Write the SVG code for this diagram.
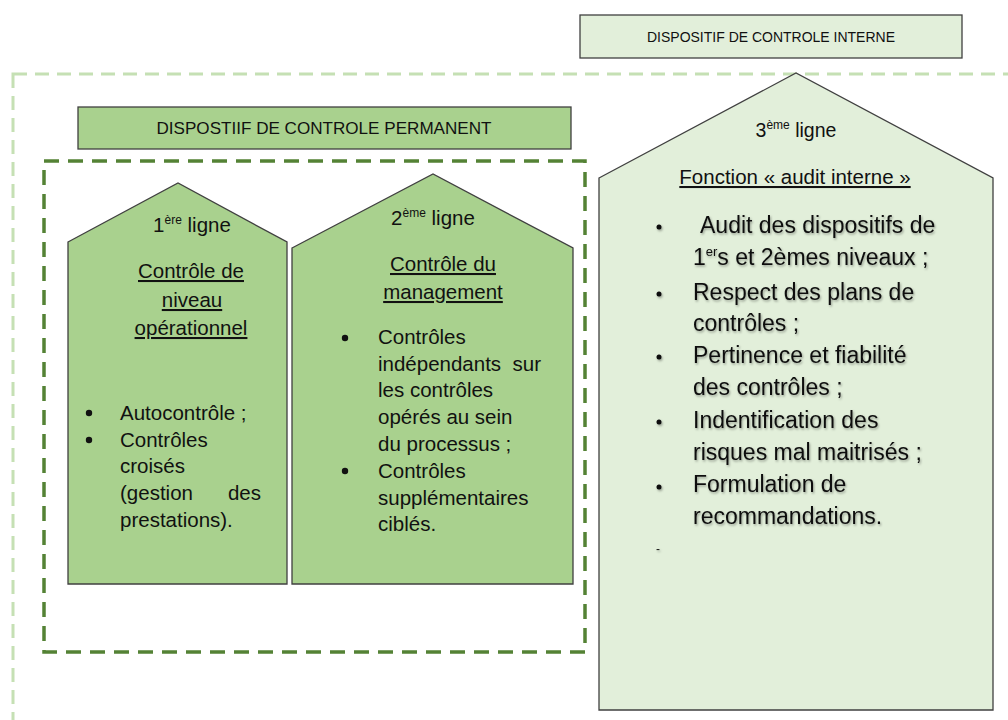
<svg xmlns="http://www.w3.org/2000/svg" width="1008" height="720" viewBox="0 0 1008 720">
<defs>
<style>
.t{font-family:"Liberation Sans",Arial,sans-serif;fill:#111;}
.box{stroke:#404040;stroke-width:1.3;}
.mid{fill:#a9d18e;}
.light{fill:#e2efda;}
.u{text-decoration:underline;}
.s{font-size:20.5px;}
.b{font-size:23px;}
</style>
<filter id="sh" x="-5%" y="-20%" width="110%" height="140%">
<feDropShadow dx="1" dy="1.5" stdDeviation="0.8" flood-color="#000" flood-opacity="0.35"/>
</filter>
</defs>
<rect width="1008" height="720" fill="#fff"/>
<g id="frames">
<rect x="13" y="74" width="1100" height="700" fill="none" stroke="#c5e0b4" stroke-width="3" stroke-dasharray="14 8"/>
<rect x="44" y="161" width="541" height="491" fill="none" stroke="#548235" stroke-width="3.5" stroke-dasharray="15 9"/>
</g>
<g id="title-internal">
<rect class="box light" x="580" y="15" width="382" height="43"/>
<text class="t" x="771" y="42" font-size="14.5" text-anchor="middle" textLength="248" lengthAdjust="spacingAndGlyphs">DISPOSITIF DE CONTROLE INTERNE</text>
</g>
<g id="title-permanent">
<rect class="box mid" x="78" y="107" width="493" height="42"/>
<text class="t" x="324" y="134" font-size="17" text-anchor="middle" textLength="335" lengthAdjust="spacingAndGlyphs">DISPOSTIIF DE CONTROLE PERMANENT</text>
</g>
<g id="line1">
<polygon class="box mid" points="68,242 178,183 287,242 287,584 68,584"/>
<text class="t s" x="192" y="232" text-anchor="middle">1<tspan font-size="12" dy="-8">ère</tspan><tspan dy="8"> ligne</tspan></text>
<text class="t s u" x="191" y="278" text-anchor="middle">Contrôle de</text>
<text class="t s u" x="192" y="307" text-anchor="middle">niveau</text>
<text class="t s u" x="191" y="335" text-anchor="middle">opérationnel</text>
<circle cx="89" cy="413" r="3.2" fill="#111"/>
<circle cx="89" cy="440" r="3.2" fill="#111"/>
<text class="t s" x="120" y="420">Autocontrôle ;</text>
<text class="t s" x="120" y="447">Contrôles</text>
<text class="t s" x="120" y="473">croisés</text>
<text class="t s" x="120" y="500">(gestion</text>
<text class="t s" x="261" y="500" text-anchor="end">des</text>
<text class="t s" x="120" y="527">prestations).</text>
</g>
<g id="line2">
<polygon class="box mid" points="292,248 433,174 573,248 573,584 292,584"/>
<text class="t s" x="433" y="225" text-anchor="middle">2<tspan font-size="12" dy="-8">ème</tspan><tspan dy="8"> ligne</tspan></text>
<text class="t s u" x="443" y="271" text-anchor="middle">Contrôle du</text>
<text class="t s u" x="443" y="299" text-anchor="middle">management</text>
<circle cx="345" cy="338" r="3.2" fill="#111"/>
<circle cx="345" cy="471" r="3.2" fill="#111"/>
<text class="t s" x="378" y="344">Contrôles</text>
<text class="t s" x="378" y="371">indépendants</text>
<text class="t s" x="541" y="371" text-anchor="end">sur</text>
<text class="t s" x="378" y="397">les contrôles</text>
<text class="t s" x="378" y="424">opérés au sein</text>
<text class="t s" x="378" y="451">du processus ;</text>
<text class="t s" x="378" y="478">Contrôles</text>
<text class="t s" x="378" y="505">supplémentaires</text>
<text class="t s" x="378" y="531">ciblés.</text>
</g>
<g id="line3">
<polygon class="box light" points="599,178 796,73 993,178 993,710 599,710"/>
<text class="t" x="796" y="137" font-size="19.5" text-anchor="middle">3<tspan font-size="12" dy="-8">ème</tspan><tspan dy="8"> ligne</tspan></text>
<text class="t u" x="795" y="184" font-size="20.5" text-anchor="middle">Fonction « audit interne  »</text>
<g filter="url(#sh)">
<circle cx="659" cy="227" r="2.5" fill="#111"/>
<circle cx="659" cy="294" r="2.5" fill="#111"/>
<circle cx="659" cy="357" r="2.5" fill="#111"/>
<circle cx="659" cy="422" r="2.5" fill="#111"/>
<circle cx="659" cy="487" r="2.5" fill="#111"/>
<text class="t b" x="700" y="233">Audit des dispositifs de</text>
<text class="t b" x="693" y="265">1<tspan font-size="13" dy="-9">er</tspan><tspan dy="9">s et 2èmes niveaux ;</tspan></text>
<text class="t b" x="693" y="300">Respect des plans de</text>
<text class="t b" x="693" y="331">contrôles ;</text>
<text class="t b" x="693" y="363">Pertinence et fiabilité</text>
<text class="t b" x="693" y="395">des contrôles ;</text>
<text class="t b" x="693" y="428">Indentification des</text>
<text class="t b" x="693" y="460">risques mal maitrisés ;</text>
<text class="t b" x="693" y="492">Formulation de</text>
<text class="t b" x="693" y="524">recommandations.</text>
<text class="t" x="656" y="553" font-size="12">-</text>
</g>
</g>
</svg>
